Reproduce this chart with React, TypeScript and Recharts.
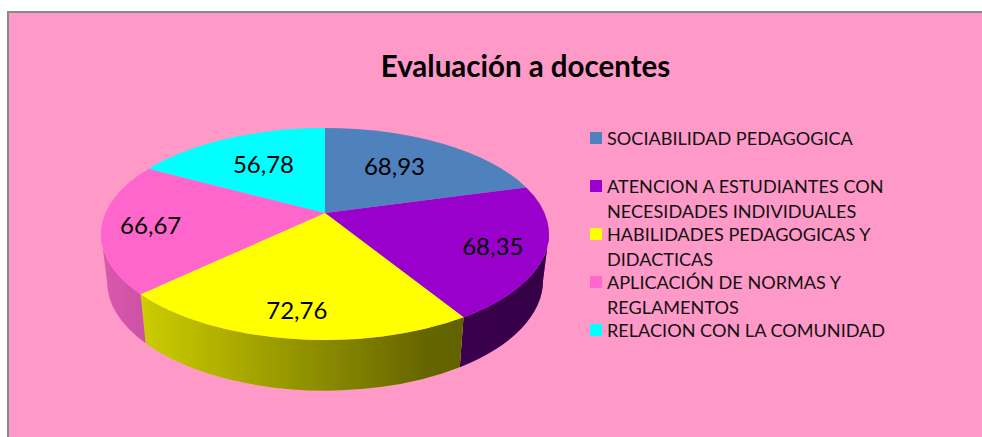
import React from "react";
import { PieChart, Pie, Cell, Legend } from "recharts";

const TITLE = "Evaluación a docentes";
const CATEGORIES = [
  "SOCIABILIDAD PEDAGOGICA",
  "ATENCION A ESTUDIANTES CON NECESIDADES INDIVIDUALES",
  "HABILIDADES PEDAGOGICAS Y DIDACTICAS",
  "APLICACIÓN DE NORMAS Y REGLAMENTOS",
  "RELACION CON LA COMUNIDAD",
];
const VALUES = [68.93, 68.35, 72.76, 66.67, 56.78];
const COLORS = ["#4f81bd", "#9900cc", "#ffff00", "#ff66cc", "#00ffff"];

const rows = CATEGORIES.map((name, i) => ({ name, value: VALUES[i] }));

const FONT = "Lato, sans-serif";
const WIDTH = 982;
const HEIGHT = 437;

// Fake 3D pie: top ellipse plus a wall, the apex sits above the ellipse centre
const CX = 325;
const CY = 234;
const RX = 224;
const RY = 106;
const APEX_Y = 213;
const PERSPECTIVE = 0.823;
// bottom edge of the wall is a slightly narrower ellipse
const BOTTOM_CY = 280.7;
const BOTTOM_RX = 218;
const BOTTOM_RY = 110;

// label position along apex -> rim, and a small nudge, per slice
const LABEL_FRACTION = [0.62, 0.78, 0.77, 0.78, 0.64];
const LABEL_NUDGE = [
  [-2, -4],
  [-4, 1],
  [-1, 0],
  [0, 1],
  [0, -2],
];

const rad = (deg: number) => (deg * Math.PI) / 180;

// recharts angle (90 at the top, going clockwise) -> angle on the tilted ellipse
function toEllipseAngle(angle: number) {
  const half = rad(90 - angle) / 2;
  return (2 * Math.atan2(PERSPECTIVE * Math.sin(half), Math.cos(half)) * 180) / Math.PI;
}

function rim(phi: number) {
  return { x: CX + RX * Math.sin(rad(phi)), y: CY - RY * Math.cos(rad(phi)) };
}

function bottomRim(phi: number) {
  return { x: CX + BOTTOM_RX * Math.sin(rad(phi)), y: BOTTOM_CY - BOTTOM_RY * Math.cos(rad(phi)) };
}

function Slice3D(props: any) {
  const { startAngle, endAngle, fill } = props;
  const from = toEllipseAngle(startAngle);
  const to = toEllipseAngle(endAngle);
  const a = rim(from);
  const b = rim(to);
  const large = to - from > 180 ? 1 : 0;
  const top = `M${CX},${APEX_Y} L${a.x},${a.y} A${RX},${RY} 0 ${large} 1 ${b.x},${b.y} Z`;

  // only the front half of the rim shows a wall
  const wallFrom = Math.max(from, 90);
  const wallTo = Math.min(to, 270);
  let wall = "";
  if (wallTo > wallFrom) {
    const w1 = rim(wallFrom);
    const w2 = rim(wallTo);
    const w3 = bottomRim(wallTo);
    const w4 = bottomRim(wallFrom);
    wall =
      `M${w1.x},${w1.y} A${RX},${RY} 0 0 1 ${w2.x},${w2.y} L${w3.x},${w3.y} ` +
      `A${BOTTOM_RX},${BOTTOM_RY} 0 0 0 ${w4.x},${w4.y} Z`;
  }

  return (
    <g>
      {wall && <path d={wall} fill={fill} />}
      {wall && <path d={wall} fill="url(#wallShade)" />}
      <path d={top} fill={fill} />
    </g>
  );
}

function SliceLabel(props: any) {
  const { midAngle, index, value } = props;
  const p = rim(toEllipseAngle(midAngle));
  const f = LABEL_FRACTION[index];
  const [dx, dy] = LABEL_NUDGE[index];
  return (
    <text
      x={CX + f * (p.x - CX) + dx}
      y={APEX_Y + f * (p.y - APEX_Y) + dy}
      textAnchor="middle"
      dominantBaseline="central"
      fontSize={24}
      fontFamily={FONT}
      fill="#000"
    >
      {value.toFixed(2).replace(".", ",")}
    </text>
  );
}

function LegendBlock() {
  return (
    <div style={{ fontFamily: FONT, fontSize: 18.1, lineHeight: "25px", color: "#111" }}>
      {CATEGORIES.map((name, i) => (
        <div key={name} style={{ height: 48, position: "relative", paddingLeft: 17 }}>
          <span
            style={{
              position: "absolute",
              left: 0,
              top: 6.5,
              width: 12,
              height: 12,
              background: COLORS[i],
            }}
          />
          {name}
        </div>
      ))}
    </div>
  );
}

export default function App() {
  return (
    <div style={{ position: "absolute", left: 0, top: 0, width: WIDTH, height: HEIGHT, background: "#fff" }}>
      <div
        style={{
          position: "absolute",
          left: 7,
          top: 11,
          right: 0,
          bottom: 0,
          background: "#ff99c8",
          borderTop: "2px solid #898989",
          borderLeft: "2px solid #898989",
        }}
      />
      <div style={{ position: "absolute", left: 0, top: 0 }}>
        <PieChart width={WIDTH} height={HEIGHT} margin={{ top: 0, right: 0, bottom: 0, left: 0 }}>
          <defs>
            <linearGradient id="wallShade" gradientUnits="userSpaceOnUse" x1={CX - RX} y1={0} x2={CX + RX} y2={0}>
              <stop offset="0%" stopColor="#000" stopOpacity={0.14} />
              <stop offset="72%" stopColor="#000" stopOpacity={0.6} />
              <stop offset="100%" stopColor="#000" stopOpacity={0.66} />
            </linearGradient>
          </defs>
          <text
            x={525.5}
            y={65}
            textAnchor="middle"
            dominantBaseline="central"
            fontSize={29.5}
            fontWeight={700}
            fontFamily={FONT}
            fill="#000"
          >
            {TITLE}
          </text>
          <Pie
            data={rows}
            dataKey="value"
            nameKey="name"
            cx={CX}
            cy={CY}
            outerRadius={RY}
            startAngle={90}
            endAngle={-270}
            stroke="none"
            shape={Slice3D}
            label={SliceLabel}
            labelLine={false}
            isAnimationActive={false}
          >
            {rows.map((r, i) => (
              <Cell key={r.name} fill={COLORS[i]} />
            ))}
          </Pie>
          <Legend
            content={LegendBlock}
            wrapperStyle={{ left: 590, top: 125.5, width: 305, bottom: "auto", right: "auto" }}
          />
        </PieChart>
      </div>
    </div>
  );
}
